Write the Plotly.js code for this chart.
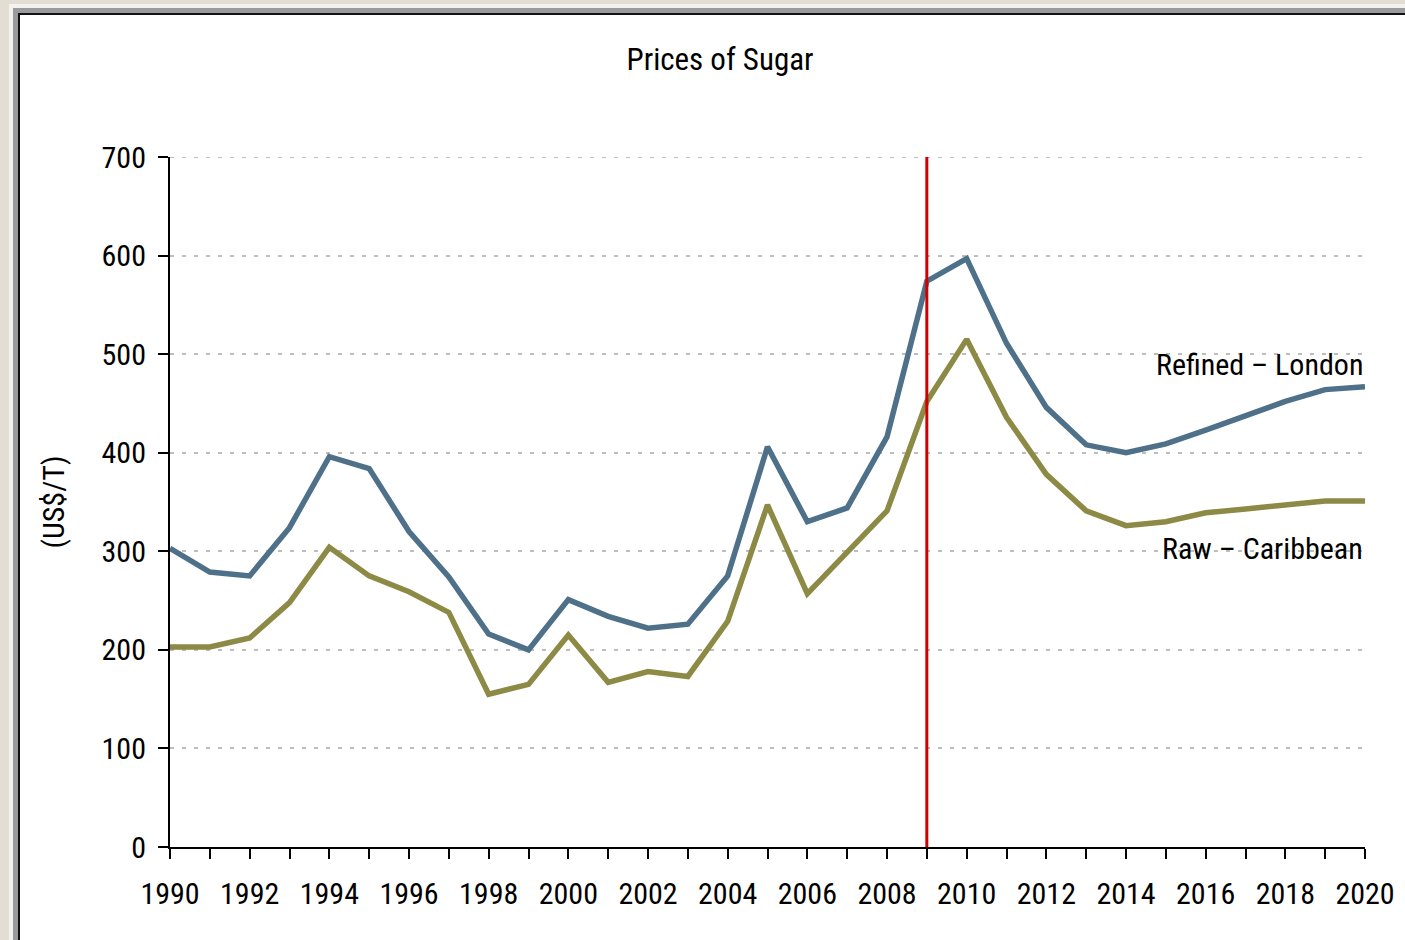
<!DOCTYPE html>
<html>
<head>
<meta charset="utf-8">
<script src="https://cdn.plot.ly/plotly-3.0.1.min.js"></script>
<style>
  html, body { margin: 0; padding: 0; width: 1405px; height: 940px; overflow: hidden; background: #e2ded3; }
  #frame { position: absolute; left: 9px; top: 4px; width: 1420px; height: 960px; background: #ffffff; border-left: 4px solid #f4f2ee; border-top: 4px solid #f4f2ee; }
  #frame2 { position: absolute; left: 13px; top: 8px; width: 1420px; height: 960px; background: #ffffff; border-left: 5px solid #9a9a9a; border-top: 5px solid #9a9a9a; }
  #frame3 { position: absolute; left: 18px; top: 13px; width: 1420px; height: 960px; background: #ffffff; border-left: 2px solid #111; border-top: 2px solid #111; }
  #chart { position: absolute; left: 0; top: 0; width: 1405px; height: 940px; }
</style>
</head>
<body>
<div id="frame"></div>
<div id="frame2"></div>
<div id="frame3"></div>
<div id="chart"></div>
<script>
const years = [1990,1991,1992,1993,1994,1995,1996,1997,1998,1999,2000,2001,2002,2003,2004,2005,2006,2007,2008,2009,2010,2011,2012,2013,2014,2015,2016,2017,2018,2019,2020];
const refinedLondon = [303,279,275,324,396,384,320,274,216,200,251,234,222,226,275,406,330,344,416,574,597,511,446,408,400,409,423,437,452,464,467];
const rawCaribbean = [203,203,212,248,304,275,259,238,155,165,215,167,178,173,229,347,257,299,341,452,515,436,378,341,326,330,339,343,347,351,351];
const markerYear = 2009;
const yTicks = [0,100,200,300,400,500,600,700];
const xTickLabels = [1990,1992,1994,1996,1998,2000,2002,2004,2006,2008,2010,2012,2014,2016,2018,2020];

const font = "'Liberation Sans Narrow', 'Arial Narrow', 'Roboto Condensed', 'Liberation Sans', sans-serif";

const traces = [
  { x: years, y: refinedLondon, type: 'scatter', mode: 'lines', name: 'Refined – London',
    line: { color: '#4e7189', width: 5.5 }, hoverinfo: 'x+y' },
  { x: years, y: rawCaribbean, type: 'scatter', mode: 'lines', name: 'Raw – Caribbean',
    line: { color: '#8c8a45', width: 5.5 }, hoverinfo: 'x+y' }
];

const layout = {
  width: 1405, height: 940,
  paper_bgcolor: 'rgba(0,0,0,0)', plot_bgcolor: 'rgba(0,0,0,0)',
  margin: { l: 170, r: 40, t: 157, b: 93 },
  showlegend: false,
  font: { family: font, color: '#000', size: 30 },
  title: { text: 'Prices of Sugar', font: { family: font, size: 31, color: '#000' },
           x: 720/1405, xanchor: 'center', xref: 'container', y: 1 - 59/940, yanchor: 'middle', yref: 'container' },
  xaxis: {
    range: [1990, 2020], tickvals: xTickLabels, ticktext: xTickLabels.map(String),
    showgrid: false, zeroline: false, showline: true, linecolor: '#000', linewidth: 2,
    ticks: 'outside', ticklen: 10, tickwidth: 2, tickcolor: '#000',
    minor: { dtick: 1, tick0: 1990, ticks: 'outside', ticklen: 10, tickwidth: 2, tickcolor: '#000', showgrid: false },
    tickfont: { family: font, size: 30, color: '#000' }, ticklabelstandoff: 9,
    fixedrange: true
  },
  yaxis: {
    range: [0, 700], tickvals: yTicks, ticktext: yTicks.map(String),
    showgrid: true, gridcolor: '#bdbdbd', gridwidth: 2, griddash: '4px,8px',
    zeroline: false, showline: true, linecolor: '#000', linewidth: 2,
    ticks: 'outside', ticklen: 10, tickwidth: 2, tickcolor: '#000',
    tickfont: { family: font, size: 30, color: '#000' }, ticklabelstandoff: 6,
    title: { text: '(US$/T)', font: { family: font, size: 30, color: '#000' }, standoff: 28 },
    fixedrange: true
  },
  shapes: [
    { type: 'line', xref: 'x', yref: 'y', x0: 1990, x1: 2020, y0: 700, y1: 700,
      line: { color: '#bdbdbd', width: 2, dash: '4px,8px' }, layer: 'below' },
    { type: 'line', xref: 'x', yref: 'y', x0: markerYear, x1: markerYear, y0: 0, y1: 700,
      line: { color: '#d00000', width: 3 } }
  ],
  annotations: [
    { text: 'Refined – London', xref: 'x', yref: 'y', x: 2020, y: 490, xanchor: 'right', yanchor: 'middle',
      showarrow: false, font: { family: font, size: 30, color: '#000' } },
    { text: 'Raw – Caribbean', xref: 'x', yref: 'y', x: 2020, y: 303, xanchor: 'right', yanchor: 'middle',
      showarrow: false, font: { family: font, size: 30, color: '#000' } }
  ]
};

Plotly.newPlot('chart', traces, layout, { displayModeBar: false, staticPlot: true });
</script>
</body>
</html>
